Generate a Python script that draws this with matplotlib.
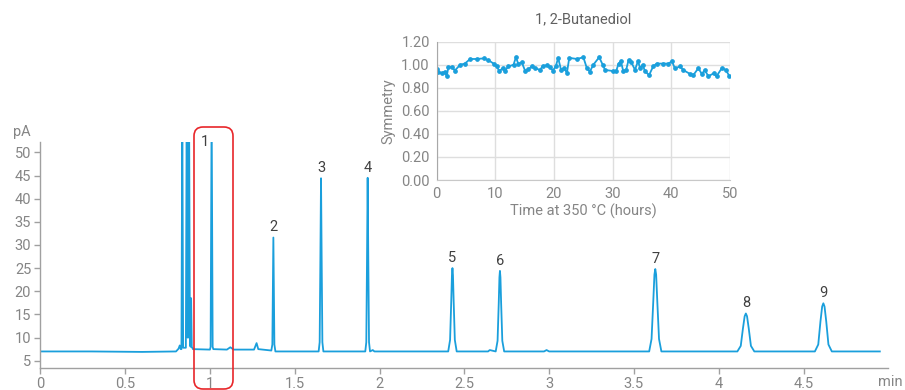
import matplotlib
matplotlib.use("Agg")
import matplotlib.pyplot as plt
from matplotlib.patches import FancyBboxPatch
from matplotlib.transforms import IdentityTransform

plt.rcParams['font.family'] = ['Roboto', 'DejaVu Sans']

# ---------------- main chromatogram trace (time in min, signal in pA) ----------------
trace_t = [
    0.00, 0.30, 0.60, 0.80, 0.815, 0.822, 0.828, 0.832,
    0.837, 0.842, 0.858, 0.863, 0.868, 0.872, 0.877, 0.882, 0.886, 0.889, 0.893, 0.900,
    1.000, 1.004, 1.010, 1.016, 1.020,
    1.100, 1.120, 1.140, 1.260, 1.275, 1.285,
    1.362, 1.368, 1.374, 1.380, 1.386,
    1.641, 1.647, 1.651, 1.655, 1.659, 1.663, 1.669,
    1.916, 1.922, 1.926, 1.930, 1.934, 1.938, 1.944, 1.960, 1.970,
    2.405, 2.416, 2.423, 2.427, 2.430, 2.433, 2.437, 2.444, 2.455,
    2.640, 2.650, 2.685, 2.696, 2.703, 2.707, 2.710, 2.713, 2.717, 2.724, 2.735,
    2.970, 2.985, 3.000, 3.590, 3.604, 3.614, 3.621, 3.626, 3.631, 3.638, 3.648, 3.662,
    4.110, 4.130, 4.143, 4.153, 4.160, 4.167, 4.177, 4.190, 4.210,
    4.567, 4.587, 4.600, 4.610, 4.617, 4.624, 4.634, 4.647, 4.667, 4.950,
]
trace_y = [
    7.0, 7.0, 6.9, 7.0, 7.6, 8.3, 7.5, 7.5,
    60.0, 7.8, 7.8, 60.0, 10.0, 10.0, 60.0, 8.5, 8.0, 18.5, 8.0, 7.5,
    7.4, 8.0, 60.0, 8.0, 7.5,
    7.4, 7.9, 7.4, 7.4, 8.8, 7.5,
    7.2, 8.5, 31.6, 8.5, 7.0,
    7.0, 9.0, 26.0, 44.4, 26.0, 9.0, 7.0,
    7.0, 9.0, 26.0, 44.5, 26.0, 9.0, 7.0, 7.3, 7.0,
    7.0, 9.5, 18.0, 23.5, 25.0, 23.5, 18.0, 9.5, 7.0,
    7.0, 7.3, 7.0, 9.3, 17.5, 23.0, 24.4, 23.0, 17.5, 9.3, 7.0,
    7.0, 7.3, 7.0, 7.0, 9.7, 17.7, 23.6, 24.8, 23.6, 17.7, 9.7, 7.0,
    7.0, 8.2, 12.0, 14.6, 15.2, 14.6, 12.0, 8.2, 7.0,
    7.0, 8.5, 13.5, 16.7, 17.4, 16.7, 13.5, 8.5, 7.0, 7.0,
]

# peak labels
peak_names = ['1', '2', '3', '4', '5', '6', '7', '8', '9']
peak_times = [1.010, 1.374, 1.655, 1.930, 2.430, 2.710, 3.626, 4.160, 4.617]
peak_tops = [60.0, 31.6, 44.4, 44.5, 25.0, 24.4, 24.8, 15.2, 17.4]

x_ticks = [0, 0.5, 1, 1.5, 2, 2.5, 3, 3.5, 4, 4.5]
y_ticks = [5, 10, 15, 20, 25, 30, 35, 40, 45, 50]

# ---------------- inset: symmetry vs time ----------------
sym_hours = [0.0, 0.3, 0.85, 1.4, 1.7, 2.0, 2.6, 3.1, 4.0, 4.8, 5.7, 6.8, 8.0, 8.8, 9.7,
             10.2, 10.7, 11.25, 11.6, 12.2, 13.1, 13.5, 13.9, 14.5, 15.1, 15.6, 16.2,
             16.8, 17.6, 18.1, 18.75, 19.3, 19.8, 20.3, 20.7, 21.2, 21.7, 22.2, 22.6,
             23.9, 25.0, 25.6, 26.1, 26.7, 27.7, 28.3, 28.7, 30.1, 30.6, 31.0, 31.4,
             31.8, 32.3, 32.7, 33.2, 33.8, 34.3, 34.7, 35.1, 35.5, 36.2, 36.9, 37.5,
             38.6, 39.5, 40.1, 40.6, 41.5, 42.0, 43.2, 43.75, 44.6, 45.2, 45.7, 46.3,
             47.2, 47.7, 48.6, 49.3, 49.9]
sym_values = [0.96, 0.94, 0.925, 0.94, 0.90, 0.98, 0.98, 0.95, 1.00, 1.01, 1.05, 1.05,
              1.055, 1.04, 1.01, 0.985, 0.945, 0.97, 0.945, 0.985, 1.00, 1.065, 1.01,
              1.02, 0.945, 0.96, 0.985, 0.97, 0.955, 0.99, 0.995, 0.98, 0.95, 0.985,
              1.06, 0.955, 0.97, 0.93, 1.06, 1.05, 1.065, 0.97, 0.94, 1.00, 1.065, 1.00,
              0.955, 0.945, 0.945, 1.01, 1.03, 0.945, 0.955, 1.04, 1.02, 0.955, 1.03,
              0.97, 1.00, 0.945, 0.91, 0.985, 1.01, 1.01, 1.01, 1.03, 0.97, 0.985,
              0.955, 0.92, 0.91, 0.97, 0.92, 0.955, 0.90, 0.925, 0.90, 0.97, 0.955, 0.90]
inset_xticks = [0, 10, 20, 30, 40, 50]
inset_yticks = [0.0, 0.2, 0.4, 0.6, 0.8, 1.0, 1.2]

BLUE = '#1a9fdc'
TICKC = '#858585'
SPINE = '#a0a0a0'

W, H = 905, 390
fig = plt.figure(figsize=(W / 100, H / 100), dpi=100)

# main axes
ax = fig.add_axes([39.5 / W, 1 - 368.3 / H, (888.3 - 39.5) / W, (368.3 - 141.7) / H])
ax.set_facecolor('none')
ax.plot(trace_t, trace_y, color=BLUE, lw=1.3)
ax.set_xlim(-0.005, 5.0)
ax.set_ylim(3.36, 52.3)
ax.set_xticks(x_ticks)
ax.set_xticklabels(['%g' % v for v in x_ticks])
ax.set_yticks(y_ticks)
for s in ('top', 'right'):
    ax.spines[s].set_visible(False)
for s in ('left', 'bottom'):
    ax.spines[s].set_color(SPINE)
    ax.spines[s].set_linewidth(1.0)
ax.tick_params(axis='both', colors=SPINE, labelcolor=TICKC, labelsize=10.5,
               length=4, width=1.0, direction='out', pad=2)

for name, t, top in zip(peak_names, peak_times, peak_tops):
    if top > 52.3:
        ax.text(t - 0.038, 52.3, name, ha='center', va='center', color='#404040', fontsize=10.5)
    else:
        ax.text(t, top + 2.2, name, ha='center', va='center', color='#404040', fontsize=10.5)

fig.text(13 / W, 1 - 132 / H, 'pA', ha='left', va='center', color=TICKC, fontsize=10.5)
fig.text(878 / W, 1 - 382 / H, 'min', ha='left', va='center', color=TICKC, fontsize=10.5)

# red highlight box around peak 1
box = FancyBboxPatch((194, 1), 39, 262, boxstyle='round,pad=0,rounding_size=9',
                     transform=IdentityTransform(), fill=False, edgecolor='#e8262a', lw=1.2)
fig.add_artist(box)

# inset axes
ia = fig.add_axes([436.7 / W, 1 - 180 / H, (730 - 436.7) / W, (180 - 41.7) / H])
ia.plot(sym_hours, sym_values, color=BLUE, lw=1.3, marker='o', ms=2.4)
ia.set_xlim(0, 50)
ia.set_ylim(0, 1.2)
ia.set_xticks(inset_xticks)
ia.set_yticks(inset_yticks)
ia.set_yticklabels(['%.2f' % v for v in inset_yticks])
ia.grid(True, color='#dedede', lw=1.0)
ia.set_axisbelow(True)
for s in ('top', 'right'):
    ia.spines[s].set_visible(False)
ia.spines['left'].set_color('#a8a8a8')
ia.spines['bottom'].set_color('#c8c8c8')
ia.tick_params(axis='both', length=0, labelcolor=TICKC, labelsize=10.5, pad=5)
ia.set_title('1, 2-Butanediol', color='#606060', fontsize=10.5, pad=13)
ia.set_xlabel('Time at 350 °C (hours)', color=TICKC, fontsize=10.5, labelpad=2)
ia.set_ylabel('Symmetry', color=TICKC, fontsize=10.5, labelpad=4)

fig.savefig('out.png', dpi=100)
